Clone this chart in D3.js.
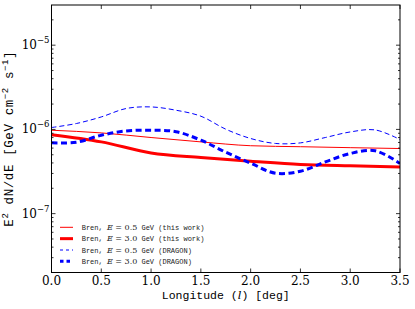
<!DOCTYPE html>
<html>
<head>
<meta charset="utf-8">
<script src="https://cdn.jsdelivr.net/npm/d3@7"></script>
<style>
  body { margin: 0; background: #fff; }
  svg { display: block; }
</style>
</head>
<body>
<svg id="chart" width="415" height="309"></svg>
<script>
// longitude grids (deg)
const lonCoarse = [0, 0.5, 1.0, 1.5, 2.0, 2.5, 3.0, 3.5]
const lonFine = [0, 0.25, 0.5, 0.75, 1.0, 1.25, 1.5, 1.75, 2.0, 2.25, 2.5, 2.75, 3.0, 3.25, 3.5]

// E^2 dN/dE in units of 1e-6 GeV cm^-2 s^-1
const bremLowThisWork = [0.978, 0.909, 0.801, 0.711, 0.640, 0.623, 0.607, 0.593]
const bremHighThisWork = [0.865, 0.711, 0.526, 0.464, 0.419, 0.383, 0.369, 0.359]
const bremLowDragon = [1.053, 1.175, 1.407, 1.771, 1.849, 1.690, 1.435, 1.006, 0.780, 0.681, 0.692, 0.801, 0.933, 0.986, 0.759]
const bremHighDragon = [0.692, 0.705, 0.853, 0.959, 0.978, 0.940, 0.745, 0.536, 0.397, 0.302, 0.319, 0.411, 0.518, 0.558, 0.394]

const xTicks = [0, 0.5, 1.0, 1.5, 2.0, 2.5, 3.0, 3.5]
const yDecades = [-7, -6, -5]

const series = [
  { energy: '0.5', tag: '(this work)', lon: lonCoarse, vals: bremLowThisWork, color: '#ff0000', width: 1, dash: null },
  { energy: '3.0', tag: '(this work)', lon: lonCoarse, vals: bremHighThisWork, color: '#ff0000', width: 3, dash: null },
  { energy: '0.5', tag: '(DRAGON)', lon: lonFine, vals: bremLowDragon, color: '#0000ff', width: 1, dash: '5,3' },
  { energy: '3.0', tag: '(DRAGON)', lon: lonFine, vals: bremHighDragon, color: '#0000ff', width: 3, dash: '6,3.5' },
]

const width = 415
const height = 309
const margin = { top: 5, right: 15, bottom: 36.5, left: 51.5 }
const plotW = width - margin.left - margin.right
const plotH = height - margin.top - margin.bottom

const svg = d3.select('#chart')
const g = svg.append('g').attr('transform', `translate(${margin.left},${margin.top})`)

const x = d3.scaleLinear().domain([0, 3.5]).range([0, plotW])
const y = d3.scaleLog().domain([2e-8, 3e-5]).range([plotH, 0])

const clip = svg.append('clipPath').attr('id', 'clip')
clip.append('rect').attr('width', plotW).attr('height', plotH)

// curves
const plot = g.append('g').attr('clip-path', 'url(#clip)')
series.forEach((s) => {
  const line = d3.line()
    .x((d, i) => x(s.lon[i]))
    .y((d) => y(d * 1e-6))
    .curve(s.dash ? d3.curveCatmullRom : d3.curveMonotoneX)
  plot.append('path')
    .datum(s.vals)
    .attr('fill', 'none')
    .attr('stroke', s.color)
    .attr('stroke-width', s.width)
    .attr('stroke-dasharray', s.dash)
    .attr('d', line)
})

// ticks (matplotlib classic: inward, on all sides)
const ticks = g.append('g').attr('stroke', '#000').attr('stroke-width', 0.8)
xTicks.forEach((t) => {
  ticks.append('line').attr('x1', x(t)).attr('x2', x(t)).attr('y1', plotH).attr('y2', plotH - 4)
  ticks.append('line').attr('x1', x(t)).attr('x2', x(t)).attr('y1', 0).attr('y2', 4)
})
const minorY = []
for (let e = -8; e <= -5; e++) {
  for (let m = 1; m <= 9; m++) {
    const v = m * Math.pow(10, e)
    if (v >= 2e-8 && v <= 3e-5) minorY.push({ v, major: m === 1 })
  }
}
minorY.forEach((t) => {
  const len = t.major ? 4 : 2
  ticks.append('line').attr('x1', 0).attr('x2', len).attr('y1', y(t.v)).attr('y2', y(t.v))
  ticks.append('line').attr('x1', plotW).attr('x2', plotW - len).attr('y1', y(t.v)).attr('y2', y(t.v))
})

// frame
g.append('rect')
  .attr('width', plotW)
  .attr('height', plotH)
  .attr('fill', 'none')
  .attr('stroke', '#000')
  .attr('stroke-width', 1)

// tick labels
const serif = '"DejaVu Serif", "Liberation Serif", serif'
const mono = '"Liberation Mono", "DejaVu Sans Mono", monospace'

g.append('g')
  .attr('font-family', serif)
  .attr('font-size', 12)
  .attr('text-anchor', 'middle')
  .selectAll('text')
  .data(xTicks)
  .join('text')
  .attr('x', (d) => x(d))
  .attr('y', plotH + 12)
  .text((d) => d.toFixed(1))

const yl = g.append('g')
  .attr('font-family', serif)
  .attr('font-size', 12)
  .attr('text-anchor', 'end')
  .selectAll('text')
  .data(yDecades)
  .join('text')
  .attr('x', -2)
  .attr('y', (d) => y(Math.pow(10, d)) + 4)
yl.append('tspan').text('10')
yl.append('tspan').attr('font-size', 8.5).attr('dy', -6).text((d) => '\u2212' + Math.abs(d))

// axis labels
const xlab = svg.append('text')
  .attr('x', margin.left + plotW / 2)
  .attr('y', 298.5)
  .attr('text-anchor', 'middle')
  .attr('font-family', mono)
  .attr('font-size', 11.5)
xlab.append('tspan').text('Longitude (')
xlab.append('tspan').attr('font-family', serif).attr('font-style', 'italic').text('l')
xlab.append('tspan').text(') [deg]')

const ylab = svg.append('text')
  .attr('transform', `translate(13,${margin.top + plotH / 2}) rotate(-90)`)
  .attr('text-anchor', 'middle')
  .attr('font-family', mono)
  .attr('font-size', 12.5)
  .attr('letter-spacing', 0.6)
ylab.append('tspan').text('E')
ylab.append('tspan').attr('font-size', 9).attr('dy', -5).text('2')
ylab.append('tspan').attr('dy', 5).text(' dN/dE [GeV cm')
ylab.append('tspan').attr('font-size', 9).attr('dy', -5).text('\u22122')
ylab.append('tspan').attr('dy', 5).text(' s')
ylab.append('tspan').attr('font-size', 9).attr('dy', -5).text('\u22121')
ylab.append('tspan').attr('dy', 5).text(']')

// legend
const legend = svg.append('g').attr('transform', 'translate(60,227.3)')
series.forEach((s, i) => {
  const row = legend.append('g').attr('transform', `translate(0,${i * 11.35})`)
  row.append('line')
    .attr('x1', 0).attr('x2', 13)
    .attr('stroke', s.color)
    .attr('stroke-width', s.width)
    .attr('stroke-dasharray', s.dash ? (s.width > 1 ? '3.5,3' : '3,3') : null)
  const t = row.append('text')
    .attr('x', 21.7)
    .attr('y', 2.5)
    .attr('font-family', mono)
    .attr('font-size', 7)
    .attr('fill', '#222')
  t.append('tspan').text('Bren, ')
  t.append('tspan').attr('font-family', serif).attr('font-style', 'italic').attr('font-size', 8).text('E')
  t.append('tspan').attr('font-family', serif).attr('font-size', 8).text(' = ' + s.energy)
  t.append('tspan').text(' GeV ' + s.tag)
})
</script>
</body>
</html>
